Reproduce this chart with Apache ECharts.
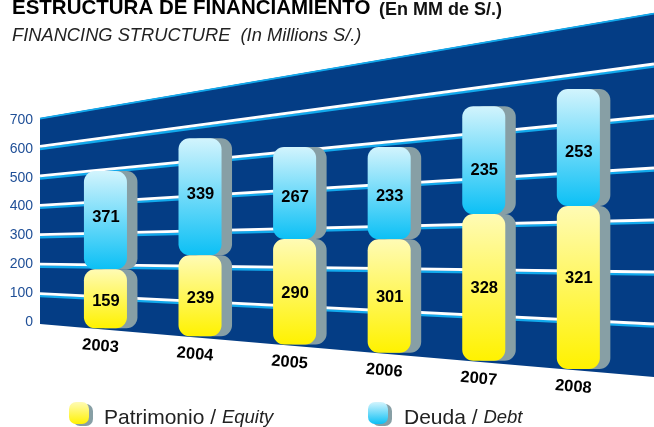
<!DOCTYPE html>
<html><head><meta charset="utf-8">
<style>html,body{margin:0;padding:0;background:#fff}#c{width:654px;height:427px}</style>
<script src="https://cdn.jsdelivr.net/npm/echarts@6/dist/echarts.min.js"></script>
</head><body><div id="c"></div>
<script>
const years = ['2003','2004','2005','2006','2007','2008'];
const yTicks = [0,100,200,300,400,500,600,700];
// Values printed on the bars
const equityPrinted = [159,239,290,301,328,321];
const debtPrinted   = [371,339,267,233,235,253];
// Bar segment heights read against the picture's own y axis. The reference artwork
// does not draw its bars to the printed values, so these differ from the labels.
const equityHeight = [190,234,276,272,324,334];
const debtHeight   = [308,331,237,218,236,238];

const FONT = '"Liberation Sans", Arial, sans-serif';
// Fan-shaped plane: screen y of value 0 and 700 at the left and right ends
const X0 = 40, X1 = 654;
const BASE = [324, 377], TOP = [118, 13];
const AXIS_Y0 = 322, AXIS_H = 202;
function fan(x, yPx) {
  const f = (x - X0) / (X1 - X0);
  const b = BASE[0] + (BASE[1] - BASE[0]) * f;
  const t = TOP[0] + (TOP[1] - TOP[0]) * f;
  return b - (AXIS_Y0 - yPx) / AXIS_H * (b - t);
}
const grad = (a, b) => ({type:'linear',x:0,y:0,x2:0,y2:1,colorStops:[{offset:0,color:a},{offset:1,color:b}]});
const EQ = grad('#fffbb5','#fff200'), DB = grad('#d2f4fd','#0cc0f5');
const SHADOW = '#879fa5', NAVY = '#043d85';
// label offsets from segment centre, px
const eqNudge = [3,2.5,2,2,1,-9], dbNudge = [-3,-2.5,4,3,10,5];
const ICON = 'path://M7 0H13A7 7 0 0 1 20 7V15A7 7 0 0 1 13 22H7A7 7 0 0 1 0 15V7A7 7 0 0 1 7 0Z';

function planeItem(params, api) {
  const v = api.value(0);
  const xa = api.coord([-0.692, v])[0], xb = api.coord([5.8, v])[0];
  const y = api.coord([0, v])[1];
  const kids = [];
  if (v === 0) {
    const yt = api.coord([0, 700])[1];
    kids.push({type:'polygon', shape:{points:[[xa,fan(xa,y)],[xb,fan(xb,y)],[xb,fan(xb,yt)],[xa,fan(xa,yt)]]}, style:{fill:NAVY}});
  } else {
    const ya = fan(xa,y), yb = fan(xb,y);
    if (v < 700) {
      kids.push({type:'line', shape:{x1:xa,y1:ya+1.5,x2:xb,y2:yb+1.5}, style:{stroke:'#12a9ec',lineWidth:2.6}});
      kids.push({type:'line', shape:{x1:xa,y1:ya-1,x2:xb,y2:yb-1}, style:{stroke:'#ffffff',lineWidth:2.8}});
    } else {
      kids.push({type:'line', shape:{x1:xa,y1:ya+0.6,x2:xb,y2:yb+0.6}, style:{stroke:'#12a9ec',lineWidth:1.8}});
    }
  }
  return {type:'group', children:kids};
}
function barItem(fill, nudge) {
  return function(params, api) {
    const i = api.value(0);
    const p0 = api.coord([i, api.value(1)]), p1 = api.coord([i, api.value(2)]);
    const x = p0[0], w = api.size([1,0])[0] * 0.455;
    const y1 = fan(x, p1[1]);
    const yb = fan(x, p0[1]) - (api.value(1) === 0 ? 1.5 : 0);
    const h = yb - y1;
    const kids = [
      {type:'rect', shape:{x:x-w/2+10.5,y:y1,width:w,height:h,r:11}, style:{fill:SHADOW}},
      {type:'rect', shape:{x:x-w/2,y:y1,width:w,height:h,r:11}, style:{fill}},
      {type:'text', x:x+0.5, y:(y1+yb)/2+nudge[i], style:{text:String(api.value(3)),x:0,y:0,align:'center',verticalAlign:'middle',font:'bold 16.5px '+FONT,fill:'#000'}}
    ];
    return {type:'group', children:kids};
  };
}
function yearItem(params, api) {
  const i = api.value(0);
  const p = api.coord([i, 0]);
  const x = p[0] - 5;
  return {type:'text', x:x, y:fan(x,p[1])+17, rotation:-0.085,
    style:{text:years[i],x:0,y:0,align:'center',verticalAlign:'middle',font:'bold 16.5px '+FONT,fill:'#000'}};
}
const legendBase = {orient:'horizontal', icon:ICON, itemWidth:20, itemHeight:22, padding:0, selectedMode:false,
  itemStyle:{borderWidth:0, shadowColor:SHADOW, shadowOffsetX:4, shadowOffsetY:2, shadowBlur:0.01}};
const chart = echarts.init(document.getElementById('c'), null, {renderer:'canvas'});
chart.setOption({
  animation:false,
  backgroundColor:'#fff',
  title:[
    {left:12, top:-2, padding:0, text:'ESTRUCTURA DE FINANCIAMIENTO', textStyle:{fontFamily:FONT,fontWeight:'bold',fontSize:20.5,color:'#000'}},
    {left:379, top:1, padding:0, text:'(En MM de S/.)', textStyle:{fontFamily:FONT,fontWeight:'bold',fontSize:18,color:'#111'}},
    {left:12, top:27, padding:0, text:'FINANCING STRUCTURE  (In Millions S/.)', textStyle:{fontFamily:FONT,fontStyle:'italic',fontWeight:'normal',fontSize:18.3,color:'#222'}}
  ],
  legend:[
    Object.assign({}, legendBase, {data:['Patrimonio'], left:69, top:402, formatter:()=>'{a|Patrimonio / }{b|Equity}',
      textStyle:{rich:{a:{fontFamily:FONT,fontSize:21,color:'#222',padding:[10,0,0,10]},b:{fontFamily:FONT,fontSize:18.5,fontStyle:'italic',color:'#222',padding:[10,0,0,0]}}}}),
    Object.assign({}, legendBase, {data:['Deuda'], left:368, top:402, formatter:()=>'{a|Deuda / }{b|Debt}',
      textStyle:{rich:{a:{fontFamily:FONT,fontSize:21,color:'#222',padding:[10,0,0,11]},b:{fontFamily:FONT,fontSize:18.5,fontStyle:'italic',color:'#222',padding:[10,0,0,0]}}}})
  ],
  grid:{left:X0, width:X1-X0, top:AXIS_Y0-AXIS_H, height:AXIS_H, containLabel:false},
  xAxis:{type:'value', min:-0.692, max:5.8, show:false},
  yAxis:{type:'value', min:0, max:700, interval:100, axisLine:{show:false}, axisTick:{show:false}, splitLine:{show:false},
    axisLabel:{margin:7, fontFamily:FONT, fontSize:14, color:'#1f4f97'}},
  series:[
    {type:'custom', name:'plane', silent:true, clip:false, renderItem:planeItem, data:yTicks.map(v=>[v]), encode:{y:0}},
    {type:'custom', name:'years', silent:true, clip:false, renderItem:yearItem, data:years.map((y,i)=>[i]), encode:{x:0}},
    {type:'custom', name:'Deuda', silent:true, clip:false, itemStyle:{color:DB}, renderItem:barItem(DB,dbNudge), encode:{x:0,y:2},
      data:years.map((y,i)=>[i,equityHeight[i],equityHeight[i]+debtHeight[i],debtPrinted[i]])},
    {type:'custom', name:'Patrimonio', silent:true, clip:false, itemStyle:{color:EQ}, renderItem:barItem(EQ,eqNudge), encode:{x:0,y:2},
      data:years.map((y,i)=>[i,0,equityHeight[i],equityPrinted[i]])}
  ]
});
</script></body></html>
